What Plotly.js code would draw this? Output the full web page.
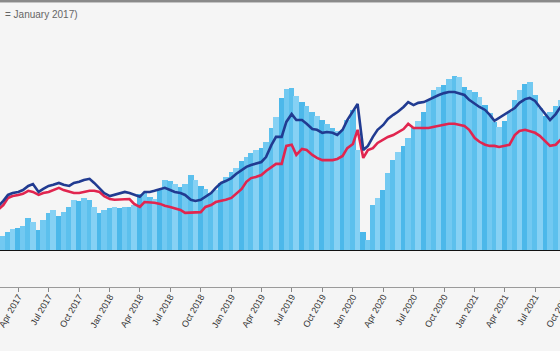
<!DOCTYPE html>
<html>
<head>
<meta charset="utf-8">
<script src="https://cdn.plot.ly/plotly-3.0.1.min.js"></script>
<style>
  html, body { margin: 0; padding: 0; width: 560px; height: 351px; overflow: hidden; background: #f5f5f5; }
  #chart { position: absolute; left: -20px; top: 0; width: 610px; height: 351px; }
  #topbar { position: absolute; left: 0; top: 0; width: 560px; height: 2px; background: #8a8a8a; border-bottom: 1px solid #c4c4c4; z-index: 5; }
</style>
</head>
<body>
<div id="topbar"></div>
<div id="chart"></div>
<script>
// Semi-monthly observation dates
const dates = [
 "2017-01-01","2017-01-15","2017-02-01","2017-02-15","2017-03-01","2017-03-15","2017-04-01","2017-04-15",
 "2017-05-01","2017-05-15","2017-06-01","2017-06-15","2017-07-01","2017-07-15","2017-08-01","2017-08-15",
 "2017-09-01","2017-09-15","2017-10-01","2017-10-15","2017-11-01","2017-11-15","2017-12-01","2017-12-15",
 "2018-01-01","2018-01-15","2018-02-01","2018-02-15","2018-03-01","2018-03-15","2018-04-01","2018-04-15",
 "2018-05-01","2018-05-15","2018-06-01","2018-06-15","2018-07-01","2018-07-15","2018-08-01","2018-08-15",
 "2018-09-01","2018-09-15","2018-10-01","2018-10-15","2018-11-01","2018-11-15","2018-12-01","2018-12-15",
 "2019-01-01","2019-01-15","2019-02-01","2019-02-15","2019-03-01","2019-03-15","2019-04-01","2019-04-15",
 "2019-05-01","2019-05-15","2019-06-01","2019-06-15","2019-07-01","2019-07-15","2019-08-01","2019-08-15",
 "2019-09-01","2019-09-15","2019-10-01","2019-10-15","2019-11-01","2019-11-15","2019-12-01","2019-12-15",
 "2020-01-01","2020-01-15","2020-02-01","2020-02-15","2020-03-01","2020-03-15","2020-04-01","2020-04-15",
 "2020-05-01","2020-05-15","2020-06-01","2020-06-15","2020-07-01","2020-07-15","2020-08-01","2020-08-15",
 "2020-09-01","2020-09-15","2020-10-01","2020-10-15","2020-11-01","2020-11-15","2020-12-01","2020-12-15",
 "2021-01-01","2021-01-15","2021-02-01","2021-02-15","2021-03-01","2021-03-15","2021-04-01","2021-04-15",
 "2021-05-01","2021-05-15","2021-06-01","2021-06-15","2021-07-01","2021-07-15","2021-08-01","2021-08-15",
 "2021-09-01","2021-09-15","2021-10-01"
];

// Bar series (light blue)
const barValues = [
 18,23,26,36,47,55,58,63,84,74,52,79,98,106,90,100,
 114,133,130,138,133,114,98,106,111,114,111,114,114,119,149,151,
 141,135,159,186,183,175,167,175,199,186,170,162,151,159,178,194,
 207,218,237,247,258,266,271,288,325,354,405,429,432,410,394,384,
 368,357,346,336,325,317,320,346,373,266,47,26,119,138,159,205,
 239,261,277,298,328,344,368,400,426,434,440,456,464,461,434,426,
 421,408,386,365,341,328,344,368,400,426,442,448,413,378,357,368,
 384,400,405
];

// Dark blue index line
const blueValues = [
 100,108,117,130,146,151,154,159,170,175,154,162,170,173,178,173,
 170,178,181,186,189,178,162,151,143,146,151,154,151,146,141,154,
 154,157,162,165,159,154,151,146,133,130,133,141,151,165,178,183,
 191,202,213,221,226,229,234,247,279,301,301,341,362,346,346,336,
 322,320,312,314,312,306,320,346,368,389,266,277,301,320,333,349,
 360,368,381,394,386,392,394,400,408,413,418,421,421,418,413,400,
 389,381,373,360,344,352,360,368,378,392,402,405,397,381,360,346,
 362,381,386
];

// Red index line
const redValues = [
 100,106,108,119,138,143,146,149,157,154,146,151,154,159,165,159,
 154,151,151,154,157,157,154,143,135,133,133,135,135,122,114,127,
 127,125,122,117,114,111,106,98,98,98,100,114,119,127,130,133,
 138,149,162,181,191,194,199,210,221,229,229,277,280,253,269,266,
 253,245,239,239,239,242,250,271,282,320,245,266,271,285,293,301,
 306,314,322,336,325,325,325,325,328,330,333,336,336,333,330,320,
 298,288,280,277,277,274,277,280,306,317,320,317,312,304,288,277,
 280,293,296
];

const legendText = "= January 2017)";

const barPalette = ["#5cc0ed", "#86d1f4", "#4cb8ea", "#72c9f1"];
const barColors = barValues.map((_, i) => barPalette[i % barPalette.length]);

const traces = [
  {
    type: "bar",
    x: dates,
    y: barValues,
    width: 17 * 86400000,
    marker: { color: barColors, line: { width: 0 } },
    hoverinfo: "skip",
    showlegend: false
  },
  {
    type: "scatter",
    mode: "lines",
    x: dates,
    y: redValues,
    line: { color: "#e1254f", width: 2.6 },
    showlegend: false
  },
  {
    type: "scatter",
    mode: "lines",
    x: dates,
    y: blueValues,
    line: { color: "#213b91", width: 2.6 },
    showlegend: false
  }
];

const layout = {
  width: 610,
  height: 351,
  margin: { l: 0, r: 0, t: 25, b: 64 },
  paper_bgcolor: "#f5f5f5",
  plot_bgcolor: "#f5f5f5",
  bargap: 0,
  showlegend: false,
  font: { family: "Liberation Sans, Arial, sans-serif", color: "#333" },
  xaxis: {
    type: "date",
    range: ["2016-12-07", "2021-12-13"],
    showgrid: false,
    zeroline: false,
    showline: true,
    linecolor: "#9a9a9a",
    linewidth: 1,
    ticks: "outside",
    ticklen: 4,
    tickcolor: "#888",
    tick0: "2017-01-01",
    dtick: "M3",
    tickformat: "%b %Y",
    tickangle: -60,
    ticklabelstandoff: -4,
    tickfont: { size: 9, color: "#333" }
  },
  yaxis: {
    range: [-100, 600],
    showgrid: false,
    showticklabels: false,
    ticks: "",
    showline: false,
    zeroline: true,
    zerolinecolor: "#111",
    zerolinewidth: 2
  },
  annotations: [
    {
      text: legendText,
      xref: "paper", yref: "paper",
      x: 23 / 610, y: 1 + 11 / 262,
      xanchor: "left", yanchor: "middle",
      showarrow: false,
      font: { size: 10, color: "#666", family: "Liberation Sans, Arial, sans-serif" }
    }
  ]
};

Plotly.newPlot("chart", traces, layout, { staticPlot: true, displayModeBar: false });
</script>
</body>
</html>
